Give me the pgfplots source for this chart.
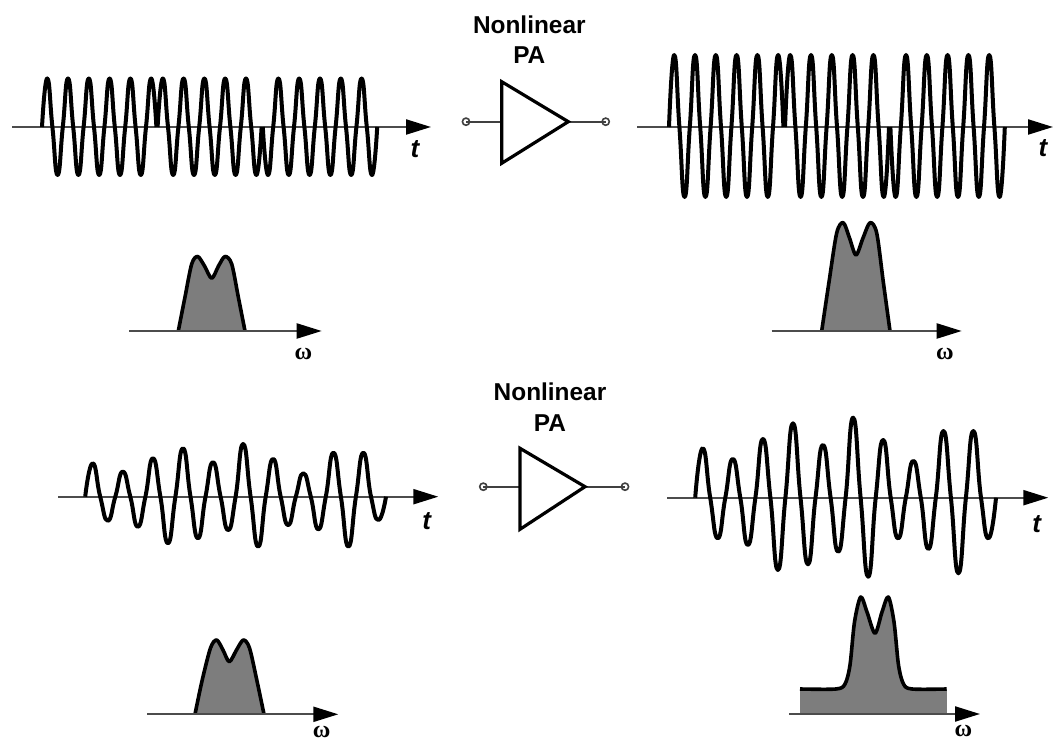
\documentclass[border=0pt]{standalone}
\usepackage{fontspec}
\setmainfont{Liberation Sans}
\newfontfamily\grfont{Liberation Serif}
\usepackage{pgfplots}
\pgfplotsset{compat=1.18}
\usetikzlibrary{arrows.meta}

% waveforms and spectra, all in picture pixels (y down)
\definecolor{specgray}{RGB}{125,125,125}

\begin{document}
\begin{tikzpicture}
\begin{axis}[
  width=527.5pt, height=371pt, scale only axis,
  xmin=0, xmax=1055, ymin=0, ymax=742, y dir=reverse,
  axis lines=none, clip=false,
  wave/.style={black, line width=2pt, smooth, tension=0.9, line join=round, no markers},
  taxis/.style={black!70, line width=1.1pt, no markers,
    -{Triangle[length=12.5pt,width=7.5pt,color=black]}},
  spec/.style={fill=specgray, draw=black, line width=1.8pt, smooth, line join=round, no markers},
  amp/.style={black, line width=1.6pt, line join=miter, no markers},
  wire/.style={black!75, line width=1pt, mark=o,
    mark options={scale=0.9, line width=0.8pt, fill=white}},
]
% ---- top row: phase-modulated input / output ----
\addplot[taxis] coordinates {(12,127) (431,127)};
\addplot[wave] coordinates {
 (42.0,127) (47.2,78.5) (52.4,127) (57.6,175) (62.8,127) (68.0,78.5) (73.2,127) (78.4,175)
 (83.6,127) (88.8,78.5) (94.0,127) (99.2,175) (104.4,127) (109.6,78.5) (114.8,127) (120.0,175)
 (125.2,127) (130.4,78.5) (135.6,127) (140.8,175) (146.0,127) (151.2,78.5) (156.4,127)};
\addplot[wave] coordinates {
 (157.6,127) (162.8,78.5) (168.0,127) (173.2,175) (178.4,127) (183.6,78.5) (188.8,127) (194.0,175)
 (199.2,127) (204.4,78.5) (209.6,127) (214.8,175) (220.0,127) (225.2,78.5) (230.4,127) (235.6,175)
 (240.8,127) (246.0,78.5) (251.2,127) (256.4,175) (261.6,127)};
\addplot[wave] coordinates {
 (262.8,127) (268.0,175) (273.2,127) (278.4,78.5) (283.6,127) (288.8,175) (294.0,127) (299.2,78.5)
 (304.4,127) (309.6,175) (314.8,127) (320.0,78.5) (325.2,127) (330.4,175) (335.6,127) (340.8,78.5)
 (346.0,127) (351.2,175) (356.4,127) (361.6,78.5) (366.8,127) (372.0,175) (377.2,127)};

\addplot[taxis] coordinates {(637,127) (1053,127)};
\addplot[wave] coordinates {
 (669.0,127) (674.2,55) (679.4,127) (684.6,197) (689.8,127) (695.0,55) (700.2,127) (705.4,197)
 (710.6,127) (715.8,55) (721.0,127) (726.2,197) (731.4,127) (736.6,55) (741.8,127) (747.0,197)
 (752.2,127) (757.4,55) (762.6,127) (767.8,197) (773.0,127) (778.2,55) (783.4,127)};
\addplot[wave] coordinates {
 (785.0,127) (790.2,55) (795.4,127) (800.6,197) (805.8,127) (811.0,55) (816.2,127) (821.4,197)
 (826.6,127) (831.8,55) (837.0,127) (842.2,197) (847.4,127) (852.6,55) (857.8,127) (863.0,197)
 (868.2,127) (873.4,55) (878.6,127) (883.8,197) (889.0,127)};
\addplot[wave] coordinates {
 (890.4,127) (895.6,197) (900.8,127) (906.0,55) (911.2,127) (916.4,197) (921.6,127) (926.8,55)
 (932.0,127) (937.2,197) (942.4,127) (947.6,55) (952.8,127) (958.0,197) (963.2,127) (968.4,55)
 (973.6,127) (978.8,197) (984.0,127) (989.2,55) (994.4,127) (999.6,197) (1004.8,127)};

% top spectra
\addplot[spec] coordinates {(178.3,331) (185,297) (191.7,264) (197.7,256.5) (204.5,266)
 (211.7,278.3) (218.5,266) (225,256.5) (231.7,264) (238.3,297) (245,331)};
\addplot[taxis] coordinates {(129.3,331) (321.7,331)};
\addplot[spec] coordinates {(821.7,331) (829,282) (836.7,233) (843.3,222.7) (849.5,238)
 (856,255) (863,238) (870,222.7) (876.7,233) (883.3,282) (890,331)};
\addplot[taxis] coordinates {(771.7,331) (961.7,331)};

% top amplifier
\addplot[wire, mark indices={1}] coordinates {(466,121.7) (501.7,121.7)};
\addplot[wire, mark indices={2}] coordinates {(568.3,121.7) (605.7,121.7)};
\addplot[amp] coordinates {(501.7,121.7) (501.7,81.7) (568.3,121.7) (501.7,163.3) (501.7,121.7)};

% ---- bottom row: amplitude-modulated input / output ----
\addplot[taxis] coordinates {(58.3,496.7) (438.3,496.7)};
\addplot[wave] coordinates {
 (85.2,496.7) (92.7,463.3) (100.2,496.7) (107.8,520.7) (115.3,496.7) (122.8,471.7) (130.3,496.7)
 (137.8,526.7) (145.4,496.7) (152.9,458.3) (160.4,496.7) (167.9,543.3) (175.4,496.7) (183.0,448.3)
 (190.5,496.7) (198.0,538.3) (205.5,496.7) (213.0,462.3) (220.6,496.7) (228.1,530) (235.6,496.7)
 (243.1,444) (250.6,496.7) (258.2,546.7) (265.7,496.7) (273.2,459) (280.7,496.7) (288.2,525)
 (295.8,496.7) (303.3,473.3) (310.8,496.7) (318.3,529.3) (325.8,496.7) (333.4,452.7) (340.9,496.7)
 (348.4,546.7) (355.9,496.7) (363.4,452.7) (371.0,496.7) (378.5,520) (386.0,496.7)};

\addplot[taxis] coordinates {(667.3,497.7) (1048.3,497.7)};
\addplot[wave] coordinates {
 (695.2,497.7) (702.7,448.3) (710.2,497.7) (717.8,538.3) (725.3,497.7) (732.8,459) (740.3,497.7)
 (747.8,545) (755.4,497.7) (762.9,439) (770.4,497.7) (777.9,570) (785.4,497.7) (793.0,423.3)
 (800.5,497.7) (808.0,564.3) (815.5,497.7) (823.0,445) (830.6,497.7) (838.1,551.7) (845.6,497.7)
 (853.1,417.7) (860.6,497.7) (868.2,576.7) (875.7,497.7) (883.2,440) (890.7,497.7) (898.2,538.3)
 (905.8,497.7) (913.3,461) (920.8,497.7) (928.3,549) (935.8,497.7) (943.4,431) (950.9,497.7)
 (958.4,573.3) (965.9,497.7) (973.4,431) (981.0,497.7) (988.5,538.3) (996.0,497.7)};

% bottom spectra
\addplot[spec] coordinates {(195,714.3) (202,681) (210.5,648) (216.7,640) (223,650)
 (229.3,661.7) (236.5,650) (243.3,640) (249.5,648) (257,681) (264,714.3)};
\addplot[taxis] coordinates {(147.3,714.3) (338.3,714.3)};
\addplot[fill=specgray, draw=none, no markers] coordinates {(800,714) (800,689) (946.7,689) (946.7,714)};
\addplot[spec] coordinates {(800,689) (836,689) (845,684) (850,665) (854.5,622) (860.7,597)
 (867,612) (875,633.3) (882,612) (888.3,597) (894,622) (898.5,665) (903.5,684) (912,689) (946.7,689)};
\addplot[taxis] coordinates {(789.3,714) (980,714)};

% bottom amplifier
\addplot[wire, mark indices={1}] coordinates {(483.3,486.7) (520,486.7)};
\addplot[wire, mark indices={2}] coordinates {(585,486.7) (625,486.7)};
\addplot[amp] coordinates {(520,486.7) (520,448.3) (585,486.7) (520,529.3) (520,486.7)};

% labels
\node[font=\fontsize{12.2}{14}\selectfont\bfseries] at (axis cs:529.3,25) {Nonlinear};
\node[font=\fontsize{12.2}{14}\selectfont\bfseries] at (axis cs:529.3,55) {PA};
\node[font=\fontsize{12.2}{14}\selectfont\bfseries] at (axis cs:550,391.7) {Nonlinear};
\node[font=\fontsize{12.2}{14}\selectfont\bfseries] at (axis cs:550,423.3) {PA};
\node[font=\fontsize{13}{15}\selectfont\bfseries\itshape] at (axis cs:415,149) {t};
\node[font=\fontsize{13}{15}\selectfont\bfseries\itshape] at (axis cs:1043,148) {t};
\node[font=\fontsize{13}{15}\selectfont\bfseries\itshape] at (axis cs:426.7,521) {t};
\node[font=\fontsize{13}{15}\selectfont\bfseries\itshape] at (axis cs:1036.7,524) {t};
\node[font=\fontsize{12}{14}\selectfont\grfont\bfseries] at (axis cs:303.3,354) {ω};
\node[font=\fontsize{12}{14}\selectfont\grfont\bfseries] at (axis cs:945,354) {ω};
\node[font=\fontsize{12}{14}\selectfont\grfont\bfseries, inner sep=1pt] at (axis cs:321.7,732) {ω};
\node[font=\fontsize{12}{14}\selectfont\grfont\bfseries, inner sep=1pt] at (axis cs:963.3,731) {ω};
\end{axis}
\pgfresetboundingbox
\path (current axis.south west) rectangle (current axis.north east);
\end{tikzpicture}
\end{document}
